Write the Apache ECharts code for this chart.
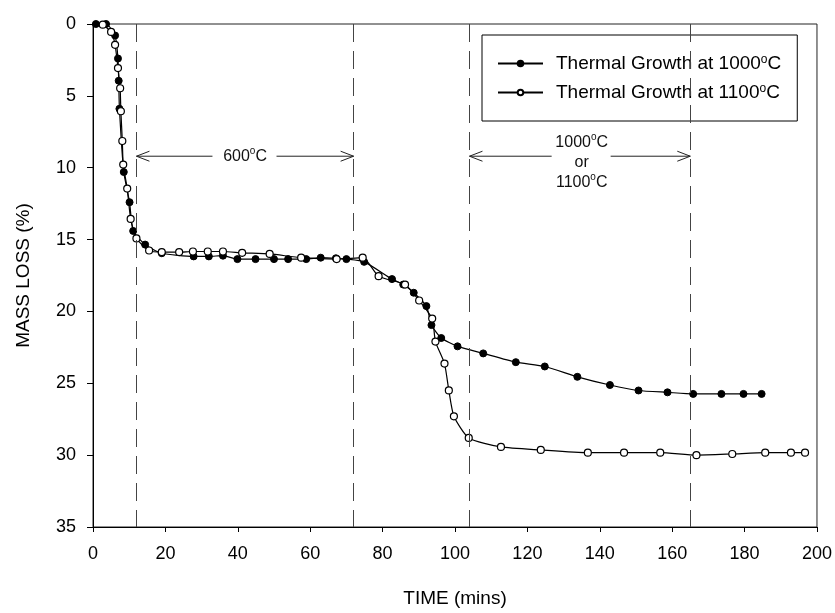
<!DOCTYPE html>
<html>
<head>
<meta charset="utf-8">
<script src="https://cdn.jsdelivr.net/npm/echarts@6/dist/echarts.min.js"></script>
<style>html,body{margin:0;padding:0;background:#fff}#c{width:835px;height:613px}</style>
</head>
<body>
<div id="c"></div>
<script>
// ---- data ----
const seriesNames = ['Thermal Growth at 1000°C', 'Thermal Growth at 1100°C'];
const growth1000 = [[0.8,0],[3.6,0],[6.1,0.8],[6.9,2.4],[7.1,3.95],[7.3,5.9],[8.5,10.3],[10.1,12.4],[11.1,14.4],[14.4,15.35],[19,15.95],[27.8,16.17],[32,16.17],[35.9,16.12],[39.9,16.36],[44.9,16.36],[50,16.36],[53.9,16.36],[58.9,16.36],[62.9,16.26],[67.1,16.3],[70,16.36],[74.9,16.55],[82.6,17.75],[85.7,18.13],[88.6,18.7],[92.1,19.63],[93.5,20.95],[96.2,21.85],[100.7,22.43],[107.8,22.92],[116.8,23.53],[124.8,23.83],[133.8,24.55],[142.8,25.12],[150.7,25.5],[158.7,25.63],[165.8,25.74],[173.6,25.74],[179.7,25.74],[184.7,25.74]];
const growth1100 = [[2.7,0.05],[5,0.55],[6.1,1.45],[6.9,3.07],[7.5,4.47],[7.7,6.07],[8.1,8.14],[8.35,9.78],[9.45,11.45],[10.4,13.56],[12,14.92],[15.5,15.76],[19,15.87],[23.8,15.87],[27.6,15.83],[31.7,15.83],[35.9,15.83],[41.2,15.92],[48.8,16.0],[57.5,16.26],[67.3,16.36],[74.5,16.26],[78.9,17.55],[86.2,18.13],[90.1,19.24],[93.7,20.5],[94.6,22.1],[97.1,23.63],[98.3,25.5],[99.7,27.3],[103.8,28.8],[112.7,29.43],[123.7,29.64],[136.7,29.83],[146.7,29.83],[156.7,29.83],[166.7,30.0],[176.6,29.92],[185.7,29.83],[192.8,29.83],[196.7,29.83]];
// annotations (data units)
const phaseLines = [12, 72, 104, 165];
const arrowSpans = [[12, 72], [104, 165]];
const arrowLevel = [9.2, 9.2];
const arrowTextGaps = [[33, 50.7], [126.7, 143]];
const arrowLabels = ['600{sup|o}C', '1000{sup|o}C\nor\n1100{sup|o}C'];
const arrowLabelAt = [[42, 9.2], [135, 9.62]];
const xTicks = {min: 0, max: 200, interval: 20};
const yTicks = {min: 0, max: 35, interval: 5};

const FONT = '"Liberation Sans", Arial, sans-serif';
const supRich = {sup: {fontSize: 10, fontFamily: FONT, color: '#000', verticalAlign: 'top', lineHeight: 12}};

const annData = arrowSpans.map((s, i) => [s[0], s[1], arrowLevel[i], arrowTextGaps[i][0], arrowTextGaps[i][1], arrowLabelAt[i][0], arrowLabelAt[i][1], i]);

const chart = echarts.init(document.getElementById('c'), null, {renderer: 'canvas'});
chart.setOption({
  animation: false,
  backgroundColor: '#fff',
  textStyle: {fontFamily: FONT},
  grid: {left: 93, right: 16, top: 24, bottom: 83, show: true, borderColor: '#222', borderWidth: 1, backgroundColor: 'transparent'},
  legend: {
    data: seriesNames,
    orient: 'vertical',
    left: 482, top: 35,
    padding: [19, 16, 19, 15],
    itemGap: 10,
    itemWidth: 45, itemHeight: 7,
    borderColor: '#000', borderWidth: 1,
    backgroundColor: 'transparent',
    formatter: n => n.replace('°C', '{sup|o}C'),
    textStyle: {fontSize: 19, fontFamily: FONT, color: '#000', padding: [0, 0, 0, 8], rich: {sup: {fontSize: 12, fontFamily: FONT, color: '#000', verticalAlign: 'top', lineHeight: 12}}}
  },
  xAxis: {
    type: 'value', position: 'bottom', min: xTicks.min, max: xTicks.max, interval: xTicks.interval,
    name: 'TIME (mins)', nameLocation: 'middle', nameGap: 62,
    nameTextStyle: {fontSize: 19, fontFamily: FONT, color: '#000'},
    axisLine: {show: true, onZero: false, lineStyle: {color: '#000', width: 1}},
    axisTick: {show: true, length: 5, lineStyle: {color: '#000'}},
    axisLabel: {fontSize: 18, fontFamily: FONT, color: '#000', margin: 18},
    splitLine: {show: false}
  },
  yAxis: {
    type: 'value', inverse: true, min: yTicks.min, max: yTicks.max, interval: yTicks.interval,
    name: 'MASS LOSS (%)', nameLocation: 'middle', nameGap: 60, nameRotate: 90,
    nameTextStyle: {fontSize: 19, fontFamily: FONT, color: '#000'},
    axisLine: {show: true, onZero: false, lineStyle: {color: '#000', width: 1}},
    axisTick: {show: true, length: 6, lineStyle: {color: '#000'}},
    axisLabel: {fontSize: 18, fontFamily: FONT, color: '#000', margin: 17},
    splitLine: {show: false}
  },
  series: [
    {
      name: seriesNames[0], type: 'line', data: growth1000, smooth: 0.2,
      symbol: 'circle', symbolSize: 7, showAllSymbol: true,
      lineStyle: {color: '#000', width: 1.2},
      itemStyle: {color: '#000', borderColor: '#000', borderWidth: 1},
      z: 3,
      markLine: {
        silent: true, symbol: 'none', animation: false,
        label: {show: false},
        lineStyle: {color: '#444', width: 1, type: [18, 9]},
        data: phaseLines.map(v => ({xAxis: v}))
      }
    },
    {
      name: seriesNames[1], type: 'line', data: growth1100, smooth: 0.2,
      symbol: 'circle', symbolSize: 7, showAllSymbol: true,
      lineStyle: {color: '#000', width: 1.2},
      itemStyle: {color: '#fff', borderColor: '#000', borderWidth: 1.2},
      z: 4
    },
    {
      type: 'custom', data: annData, silent: true, z: 5,
      renderItem: function (params, api) {
        const y = api.value(2);
        const a = api.coord([api.value(0), y]);
        const b = api.coord([api.value(1), y]);
        const gl = api.coord([api.value(3), y]);
        const gr = api.coord([api.value(4), y]);
        const t = api.coord([api.value(5), api.value(6)]);
        const lab = arrowLabels[api.value(7)];
        const st = {stroke: '#222', lineWidth: 1, fill: null};
        return {
          type: 'group',
          children: [
            {type: 'line', shape: {x1: a[0], y1: a[1], x2: gl[0], y2: gl[1]}, style: st},
            {type: 'line', shape: {x1: gr[0], y1: gr[1], x2: b[0], y2: b[1]}, style: st},
            {type: 'polyline', shape: {points: [[a[0] + 13, a[1] - 5], [a[0], a[1]], [a[0] + 13, a[1] + 5]]}, style: st},
            {type: 'polyline', shape: {points: [[b[0] - 13, b[1] - 5], [b[0], b[1]], [b[0] - 13, b[1] + 5]]}, style: st},
            {type: 'text', x: t[0], y: t[1], style: {text: lab, align: 'center', verticalAlign: 'middle', fontSize: 16, fontFamily: FONT, fill: '#111', lineHeight: 20, rich: supRich}}
          ]
        };
      }
    }
  ]
});
</script>
</body>
</html>
